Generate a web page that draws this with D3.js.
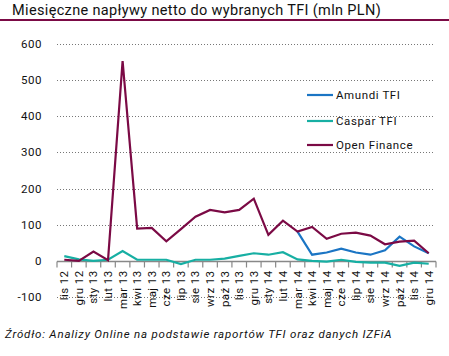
<!DOCTYPE html>
<html><head><meta charset="utf-8">
<script src="https://cdn.jsdelivr.net/npm/d3@7"></script>
<style>body{margin:0;background:#fff}svg{display:block}text{font-family:Roboto,"DejaVu Sans",sans-serif}</style>
</head><body>
<svg id="c" width="449" height="356"></svg>
<script>
const months = ["lis 12","gru 12","sty 13","lut 13","mar 13","kwi 13","maj 13","cze 13","lip 13","sie 13","wrz 13","paź 13","lis 13","gru 13","sty 14","lut 14","mar 14","kwi 14","maj 14","cze 14","lip 14","sie 14","wrz 14","paź 14","lis 14","gru 14"];
const amundi = [null,null,null,null,null,null,null,null,null,null,null,null,null,null,null,null,81,17,23,34,23,17,29,67,40,21];
const caspar = [13,4,0,3,27,3,3,3,-9,3,3,6,14,21,17,24,4,0,-2,3,-3,-5,-5,-14,-5,-8];
const openFinance = [3,0,26,2,553,89,91,54,88,122,141,134,141,172,72,111,81,94,61,75,78,70,46,53,56,21];
const yTicks = [-100,0,100,200,300,400,500,600];
const seriesNames = ["Amundi TFI","Caspar TFI","Open Finance"];
const colors = ["#1B75C4","#17AFA3","#7B0A45"];

const svg = d3.select("#c");
const x = d3.scaleBand().domain(months).range([57, 436]);
const y = d3.scaleLinear().domain([-100, 600]).range([297, 44]);

// title
svg.append("text").attr("x", 12).attr("y", 15).attr("font-size", 14.5).attr("letter-spacing", 0.35).attr("fill", "#111")
  .text("Miesięczne napływy netto do wybranych TFI (mln PLN)");
svg.append("rect").attr("x", 0).attr("y", 19).attr("width", 449).attr("height", 2).attr("fill", "#7B0A45");

// gridlines
svg.append("g").selectAll("line").data(yTicks.filter(d => d !== 0)).join("line")
  .attr("x1", 57).attr("x2", 433).attr("y1", d => Math.round(y(d)) + 0.5).attr("y2", d => Math.round(y(d)) + 0.5)
  .attr("stroke", "#777").attr("stroke-dasharray", "1,2");

// y labels
svg.append("g").selectAll("text").data(yTicks).join("text")
  .attr("x", 42).attr("y", d => y(d) + 4).attr("text-anchor", "end").attr("font-size", 11.5).attr("letter-spacing", 0.5).attr("fill", "#111")
  .text(d => d);

// x axis
const gx = svg.append("g").attr("transform", `translate(0,${Math.round(y(0)) + 0.5})`);
gx.append("line").attr("x1", 57).attr("x2", 436).attr("stroke", "#888").attr("stroke-width", 1.5);
gx.selectAll("line.t").data(d3.range(months.length + 1)).join("line").attr("class", "t")
  .attr("x1", i => 57 + i * x.step()).attr("x2", i => 57 + i * x.step()).attr("y1", 0).attr("y2", 6)
  .attr("stroke", "#888").attr("stroke-width", 1.2);
gx.selectAll("text.l").data(months).join("text").attr("class", "l")
  .attr("transform", d => `translate(${x(d) + x.bandwidth() / 2 + 4},9) rotate(-90)`)
  .attr("text-anchor", "end").attr("font-size", 11.5).attr("letter-spacing", 0.4).attr("fill", "#111").text(d => d);

// lines
const data = [amundi, caspar, openFinance];
const line = d3.line().defined(d => d[1] !== null)
  .x(d => x(d[0]) + x.bandwidth() / 2).y(d => y(d[1]));
data.forEach((vals, i) => {
  svg.append("path").datum(months.map((m, j) => [m, vals[j]]))
    .attr("d", line).attr("fill", "none").attr("stroke", colors[i]).attr("stroke-width", 2.2)
    .attr("stroke-linejoin", "miter");
});

// legend
const ly = [95, 121, 145];
seriesNames.forEach((n, i) => {
  svg.append("line").attr("x1", 307).attr("x2", 333).attr("y1", ly[i]).attr("y2", ly[i])
    .attr("stroke", colors[i]).attr("stroke-width", 2.2);
  svg.append("text").attr("x", 336).attr("y", ly[i] + 4).attr("font-size", 11.5).attr("letter-spacing", 0.6).attr("fill", "#111").text(n);
});

// source
svg.append("text").attr("x", 5).attr("y", 338).attr("font-size", 11.5).attr("font-style", "italic").attr("letter-spacing", 0.8).attr("fill", "#111")
  .text("Źródło: Analizy Online na podstawie raportów TFI oraz danych IZFiA");
</script>
</body></html>
